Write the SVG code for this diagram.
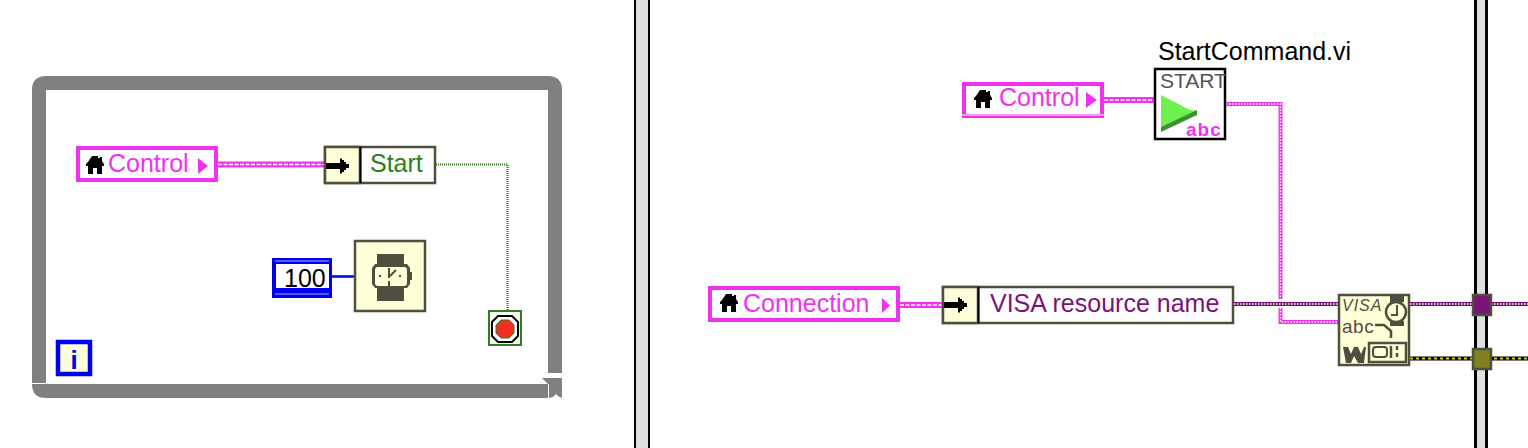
<svg xmlns="http://www.w3.org/2000/svg" width="1528" height="448" viewBox="0 0 1528 448">
<defs>
<path id="house" d="M6 0h6v2h2v-1h2v4l2 3v2h-2v8h-5v-6h-4v6h-5v-8h-2v-2l2-2z" fill="#000"/>
<path id="arrow" d="M0 -3H14V-7.500H16V-6H18V-4H20V-2H23V2H20V4H18V6H16V7.500H14V3H0z" fill="#000"/>
</defs>
<style>
text{font-family:"Liberation Sans",Arial,sans-serif;font-size:25px}
.pk{fill:#f032f0}
.loc{fill:#fff;stroke:#f032f0;stroke-width:4}
.pw{fill:none;stroke:#f032f0;stroke-width:6}
.pd{fill:none;stroke:#fff;stroke-width:1.500;stroke-dasharray:4 1.500}
.thin{fill:none;stroke:#f032f0;stroke-width:4}
.thind{fill:none;stroke:#fff;stroke-width:1.400;stroke-dasharray:1.500 1.500}
.cl{fill:#fff;stroke:#4f4f3f;stroke-width:2.500}
.yl{fill:#ffffd8;stroke:#4f4f3f;stroke-width:2.500}
.ic{fill:#4f4f3f}
.ln{fill:none;stroke:#4f4f3f}
.bd{fill:#e0e0e0}
.blk{fill:#000}
.gr{fill:#808080}
</style>
<g id="while-loop">
<path class="gr" d="M32 383V90q0-14 14-14H548q14 0 14 14V373H548V90H46V383z"/>
<path class="gr" d="M32 384H548V398H46q-14 0-14-14z"/>
<path class="gr" d="M542 378H562V398L558 396L556 394L553 397L549 398V384H548z"/>
</g>
<g id="structure-left"><rect class="blk" x="634" y="0" width="16" height="448"/><rect class="bd" x="636" y="0" width="12" height="448"/></g>
<g id="structure-right"><rect class="blk" x="1474" y="0" width="14" height="448"/><rect class="bd" x="1477" y="0" width="8" height="448"/></g>
<g id="connectors">
<path class="pw" d="M218 164.500H326"/><path class="pd" d="M218 164.500H326"/>
<path d="M436 164.500H507.500V310" fill="none" stroke="#2e6d1e" stroke-width="2" stroke-dasharray="1 1"/>
<path d="M332 276.500H354" stroke="#0000f0" stroke-width="2.500" fill="none"/>
<path class="pw" d="M1104 100H1156"/><path class="pd" d="M1104 100H1156"/>
<path class="thin" d="M1226 104H1280.500V299"/><path class="thind" d="M1226 104H1280.500V299"/>
<path class="thin" d="M1280.500 308V322H1338"/><path class="thind" d="M1280.500 308V322H1338"/>
<path class="pw" d="M900 305H944"/><path class="pd" d="M900 305H944"/>
<path d="M1234 304H1338M1410 304H1528" stroke="#7b1278" stroke-width="4" fill="none"/>
<path d="M1234 304H1338M1410 304H1528" stroke="#fff" stroke-width="1.400" stroke-dasharray="1.500 1.500" fill="none"/>
<path d="M1410 358.500H1528" stroke="#000" stroke-width="4" fill="none"/>
<path d="M1410 358.500H1528" stroke="#e0d020" stroke-width="2" stroke-dasharray="3 3" fill="none"/>
</g>
<g id="control-local-1">
<rect class="loc" x="78" y="148" width="138" height="32"/>
<use href="#house" x="86" y="156"/>
<text class="pk" x="108" y="172">Control</text>
<path class="pk" d="M198 158l10 8l-10 8z"/>
</g>
<g id="unbundle-start">
<rect class="cl" x="325" y="147" width="110" height="36"/>
<rect class="yl" x="325" y="147" width="35" height="36"/>
<path d="M360.500 147V183" stroke="#000" stroke-width="2" fill="none"/>
<use href="#arrow" x="326" y="166"/>
<text x="370" y="172" fill="#2e7d1e">Start</text>
</g>
<g id="const-100">
<rect x="272" y="258" width="60" height="40" fill="#0000f0"/>
<rect x="276" y="264" width="53" height="24" fill="#fff"/>
<path d="M275 261H329M275 294H329" stroke="#b0b0ff" stroke-width="1" fill="none"/>
<text x="284" y="287" fill="#000">100</text>
</g>
<g id="wait-ms">
<rect class="yl" x="355" y="241" width="70" height="70"/>
<path class="ic" d="M377 254H404V264H407L410 268V272H412V280H410V284L407 288H404V301H377V288H375L372 284V268L375 264H377z"/>
<rect x="375" y="267" width="32" height="19" rx="3" fill="#ffffd8"/>
<path class="ln" d="M389 268V278M389 281V286M390 276L396 270" stroke-width="2"/>
<path class="ic" d="M379 275h2v2h-2zM399 275h2v2h-2z"/>
</g>
<g id="stop">
<rect x="489" y="311" width="32" height="34" fill="#fff" stroke="#2e7d1e" stroke-width="2"/>
<path d="M498 316H512L518 322V336L512 342H498L492 336V322z" fill="#fff" stroke="#000" stroke-width="2"/>
<path d="M501 320H509L514 325V333L509 338H501L496 333V325z" fill="#ef3020" stroke="#2e7d1e" stroke-width="1"/>
</g>
<g id="iteration">
<rect x="58" y="342" width="32" height="32" fill="#ffffd8" stroke="#0000f0" stroke-width="4.500"/>
<text x="74" y="369" text-anchor="middle" fill="#0000f0" style="font-weight:bold;font-size:26px">i</text>
</g>
<g id="control-local-2">
<rect class="loc" x="964" y="84" width="138" height="32"/>
<path d="M962 115H1104" stroke="#fff" stroke-width="1" fill="none"/>
<use href="#house" x="974" y="90"/>
<text class="pk" x="999" y="106">Control</text>
<path class="pk" d="M1086 92l11 8l-11 8z"/>
</g>
<g id="start-command">
<text x="1158" y="60" fill="#000">StartCommand.vi</text>
<rect x="1155" y="69" width="70" height="70" fill="#fff" stroke="#000" stroke-width="2.500"/>
<text x="1160" y="88" fill="#555" style="font-size:21px">START</text>
<path d="M1161 95L1190 110L1197 111L1161 127z" fill="#70f050"/>
<path d="M1161 127L1197 110V115L1161 132z" fill="#3c9030"/>
<text class="pk" x="1186" y="136" style="font-size:19px;font-weight:bold;letter-spacing:1px">abc</text>
</g>
<g id="control-local-3">
<rect class="loc" x="710" y="288" width="188" height="32"/>
<use href="#house" x="720" y="294"/>
<text class="pk" x="743" y="312">Connection</text>
<path class="pk" d="M882 298l8 7.500l-8 7.500z"/>
</g>
<g id="unbundle-visa">
<rect class="cl" x="943" y="287" width="290" height="36"/>
<rect class="yl" x="943" y="287" width="35" height="36"/>
<path d="M978.500 287V323" stroke="#000" stroke-width="2" fill="none"/>
<use href="#arrow" x="944" y="305"/>
<text x="990" y="312" fill="#7b1278">VISA resource name</text>
</g>
<g id="visa-node">
<rect class="yl" x="1339" y="295" width="70" height="70"/>
<text class="ic" x="1342" y="311" style="font-size:16px;font-style:italic;letter-spacing:1px">VISA</text>
<text class="ic" x="1342" y="333" style="font-size:19px;letter-spacing:.5px">abc</text>
<path class="ln" d="M1375 325H1384L1391 331V338" stroke-width="2.500"/>
<circle cx="1396" cy="312" r="10" fill="none" stroke="#4f4f3f" stroke-width="2.500"/>
<path class="ic" d="M1390 295H1404V302H1390zM1390 321H1404V326H1390z"/>
<path class="ln" d="M1397 305V315H1391" stroke-width="2"/>
<path class="ic" d="M1343 347H1348L1351 354L1354 347H1358L1361 354L1364 347H1366L1364 363H1358L1354 356L1351 363H1346z"/>
<rect x="1369" y="343" width="37" height="19" class="ln" stroke-width="2.500"/>
<rect x="1373" y="347" width="14" height="10" rx="3" class="ln" stroke-width="2"/>
<path class="ln" d="M1391 346V358M1397 346V350M1397 353V357" stroke-width="2.500"/>
</g>
<g id="tunnel-1">
<rect x="1473" y="295" width="18" height="20" fill="#7b1278" stroke="#4f4f3f" stroke-width="2.500"/>
</g>
<g id="tunnel-2">
<rect x="1473" y="349" width="18" height="20" fill="#808020" stroke="#4f4f3f" stroke-width="2.500"/>
</g>
</svg>
